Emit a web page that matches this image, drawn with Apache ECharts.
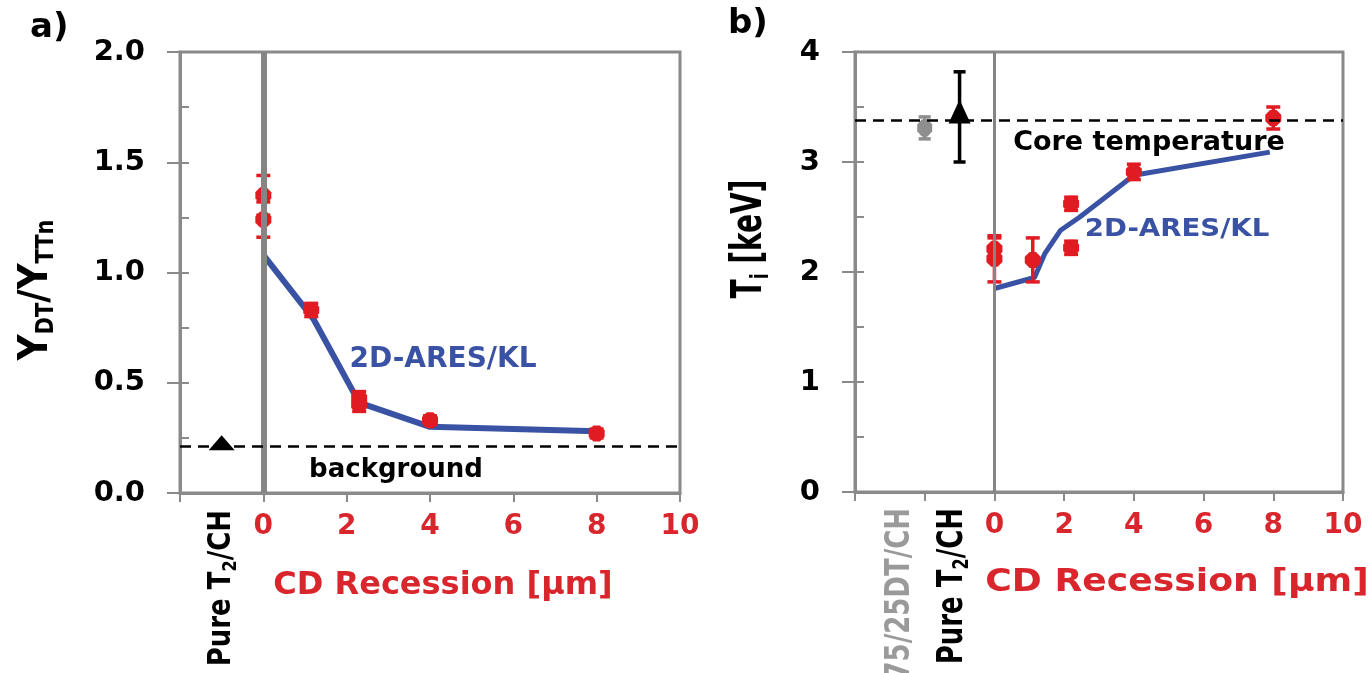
<!DOCTYPE html>
<html><head><meta charset="utf-8">
<script src="https://cdn.jsdelivr.net/npm/echarts@6/dist/echarts.min.js"></script>
<style>html,body{margin:0;padding:0;background:#fff}#c{width:1371px;height:673px}</style>
</head><body><div id="c"></div>
<script>
// ---------- Panel a : Y_DT / Y_TTn ----------
const aMeasX   = [0, 0, 1.15, 2.3, 2.3, 4, 8];
const aMeasY   = [1.35, 1.24, 0.83, 0.43, 0.40, 0.33, 0.27];
const aMeasErr = [0.09, 0.08, 0.03, 0.03, 0.03, 0.02, 0.02];
const aModelX  = [0, 1.2, 2.3, 4, 8];
const aModelY  = [1.08, 0.79, 0.41, 0.30, 0.28];
const aPureX   = [-1];
const aPureY   = [0.21];
const aBackground = 0.21;
const aYLabels = [0, 0.5, 1, 1.5, 2];

// ---------- Panel b : Ti [keV] ----------
const bMeasX   = [0, 0, 1.1, 2.2, 2.2, 4, 8];
const bMeasY   = [2.21, 2.12, 2.11, 2.62, 2.22, 2.91, 3.40];
const bMeasErr = [0.10, 0.21, 0.20, 0.06, 0.06, 0.07, 0.10];
const bModelX  = [0, 1.15, 1.45, 1.9, 2.45, 4, 7.9];
const bModelY  = [1.85, 1.95, 2.17, 2.38, 2.50, 2.88, 3.09];
const bMixX    = [-2];
const bMixY    = [3.31];
const bMixErr  = [0.10];
const bPureX   = [-1];
const bPureY   = [3.46];
const bPureLow = [3.00];
const bPureHigh= [3.82];
const bCoreT   = 3.38;
const bYLabels = [0, 1, 2, 3, 4];

const xTickLabels = [0, 2, 4, 6, 8, 10];

// ---------- styles ----------
const FONT = 'DejaVu Sans';
const RED = '#e01b22';
const RED_TXT = '#d9252c';
const BLUE = '#3a52a3';
const AXIS = '#8a8a8a';
const OCT = 'path://M3,0 L7,0 L10,3 L10,7 L7,10 L3,10 L0,7 L0,3 Z';

const chart = echarts.init(document.getElementById('c'));

function errBars(xs, lows, highs, color, xi, yi, cap) {
  return {
    type: 'custom', xAxisIndex: xi, yAxisIndex: yi, z: 3, silent: true,
    data: xs.map((x, i) => [x, lows[i], highs[i]]),
    renderItem(params, api) {
      const x = api.value(0);
      const lo = api.coord([x, api.value(1)]);
      const hi = api.coord([x, api.value(2)]);
      const st = { stroke: color, lineWidth: 3.5 };
      return { type: 'group', children: [
        { type: 'line', shape: { x1: lo[0], y1: lo[1], x2: hi[0], y2: hi[1] }, style: st },
        { type: 'line', shape: { x1: lo[0] - cap, y1: lo[1], x2: lo[0] + cap, y2: lo[1] }, style: st },
        { type: 'line', shape: { x1: hi[0] - cap, y1: hi[1], x2: hi[0] + cap, y2: hi[1] }, style: st }
      ]};
    }
  };
}
const zip = (xs, ys) => xs.map((x, i) => [x, ys[i]]);

function xAxisCfg(gi, min) {
  return {
    gridIndex: gi, type: 'value', min: min, max: 10, interval: 2,
    axisLine: { show: true, onZero: false, lineStyle: { color: AXIS, width: 3 } },
    axisTick: { show: true, inside: false, length: 9, lineStyle: { color: AXIS, width: 2 } },
    splitLine: { show: false },
    axisLabel: { color: RED_TXT, fontSize: 28, fontWeight: 'bold', fontFamily: FONT, margin: 20,
      formatter: v => xTickLabels.indexOf(v) >= 0 ? String(v) : '' }
  };
}
function yMain(gi, max, step, labels, dec) {
  return {
    gridIndex: gi, type: 'value', min: 0, max: max, interval: step, position: 'left',
    axisLine: { show: true, onZero: false, lineStyle: { color: AXIS, width: 3 } },
    axisTick: { show: true, inside: true, length: 9, lineStyle: { color: AXIS, width: 2 } },
    splitLine: { show: false },
    axisLabel: { color: '#000', fontSize: 29, fontWeight: 'bold', fontFamily: FONT, margin: 35,
      formatter: v => labels.some(l => Math.abs(l - v) < 1e-9) ? v.toFixed(dec) : '' }
  };
}
function yOuter(gi, max, step) {
  return {
    gridIndex: gi, type: 'value', min: 0, max: max, interval: step, position: 'left',
    axisLine: { show: false, onZero: false },
    axisTick: { show: true, inside: false, length: 13, lineStyle: { color: AXIS, width: 2 } },
    splitLine: { show: false }, axisLabel: { show: false }
  };
}

const txt = (o) => Object.assign({ type: 'text', silent: true, z: 100 }, o);
const solid = (c) => ({ color: c, opacity: 1 });

chart.setOption({
  animation: false,
  backgroundColor: '#fff',
  grid: [
    { left: 180, top: 52, width: 500, height: 441, show: true, borderColor: AXIS, borderWidth: 3, backgroundColor: 'transparent' },
    { left: 855, top: 52, width: 488, height: 440, show: true, borderColor: AXIS, borderWidth: 3, backgroundColor: 'transparent' }
  ],
  xAxis: [ xAxisCfg(0, -2), xAxisCfg(1, -4) ],
  yAxis: [
    yMain(0, 2, 0.25, aYLabels, 1), yOuter(0, 2, 0.5),
    yMain(1, 4, 0.5, bYLabels, 0),  yOuter(1, 4, 1)
  ],
  series: [
    // ---- panel a ----
    { type: 'line', xAxisIndex: 0, yAxisIndex: 0, data: [], silent: true, z: 1,
      markLine: { silent: true, symbol: 'none', label: { show: false },
        data: [
          { xAxis: 0, lineStyle: { color: '#858585', width: 6, type: 'solid' } },
          { yAxis: aBackground, lineStyle: { color: '#000', width: 2.5, type: [11, 7] } }
        ] } },
    { type: 'line', xAxisIndex: 0, yAxisIndex: 0, data: zip(aModelX, aModelY), z: 2,
      showSymbol: false, lineStyle: { color: BLUE, width: 6 }, silent: true },
    errBars(aMeasX, aMeasY.map((y, i) => y - aMeasErr[i]), aMeasY.map((y, i) => y + aMeasErr[i]), RED, 0, 0, 7),
    { type: 'scatter', xAxisIndex: 0, yAxisIndex: 0, data: zip(aMeasX, aMeasY), z: 4,
      symbol: OCT, symbolSize: 16, itemStyle: solid(RED) },
    { type: 'scatter', xAxisIndex: 0, yAxisIndex: 0, data: zip(aPureX, aPureY), z: 4,
      symbol: 'triangle', symbolSize: [26, 15], symbolOffset: [0, -4], itemStyle: solid('#000') },

    // ---- panel b ----
    { type: 'line', xAxisIndex: 1, yAxisIndex: 2, data: [], silent: true, z: 1,
      markLine: { silent: true, symbol: 'none', label: { show: false },
        data: [
          { xAxis: 0, lineStyle: { color: '#858585', width: 3, type: 'solid' } },
          { yAxis: bCoreT, lineStyle: { color: '#000', width: 2.5, type: [11, 7] } }
        ] } },
    { type: 'line', xAxisIndex: 1, yAxisIndex: 2, data: zip(bModelX, bModelY), z: 2,
      showSymbol: false, lineStyle: { color: BLUE, width: 5 }, silent: true },
    errBars(bMeasX, bMeasY.map((y, i) => y - bMeasErr[i]), bMeasY.map((y, i) => y + bMeasErr[i]), RED, 1, 2, 7),
    { type: 'scatter', xAxisIndex: 1, yAxisIndex: 2, data: zip(bMeasX, bMeasY), z: 4,
      symbol: OCT, symbolSize: 16, itemStyle: solid(RED) },
    errBars(bMixX, bMixY.map((y, i) => y - bMixErr[i]), bMixY.map((y, i) => y + bMixErr[i]), '#8e8e8e', 1, 2, 6),
    { type: 'scatter', xAxisIndex: 1, yAxisIndex: 2, data: zip(bMixX, bMixY), z: 4,
      symbol: OCT, symbolSize: [15, 17], itemStyle: solid('#8e8e8e') },
    errBars(bPureX, bPureLow, bPureHigh, '#000', 1, 2, 6),
    { type: 'scatter', xAxisIndex: 1, yAxisIndex: 2, data: zip(bPureX, bPureY), z: 4,
      symbol: 'triangle', symbolSize: [22, 24], itemStyle: solid('#000') }
  ],
  graphic: [
    txt({ x: 30, y: 28, style: { text: 'a)', fontSize: 34, fontWeight: 'bold', fontFamily: FONT, fill: '#000', align: 'left', verticalAlign: 'middle' } }),
    txt({ x: 728, y: 24, style: { text: 'b)', fontSize: 34, fontWeight: 'bold', fontFamily: FONT, fill: '#000', align: 'left', verticalAlign: 'middle' } }),
    // y titles
    txt({ x: 36, y: 290, rotation: Math.PI / 2, scaleY: 1.15, style: {
      text: '{m|Y}{s|DT}{m|/Y}{s|TTn}', align: 'center', verticalAlign: 'middle', fill: '#000',
      fontFamily: FONT, fontWeight: 'bold', fontSize: 36,
      rich: { m: { fontSize: 36, fontWeight: 'bold', fontFamily: FONT, fill: '#000', lineHeight: 40 },
              s: { fontSize: 21, fontWeight: 'bold', fontFamily: FONT, fill: '#000', lineHeight: 12, verticalAlign: 'bottom' } } } }),
    txt({ x: 750, y: 239, rotation: Math.PI / 2, scaleY: 1.5, style: {
      text: '{m|T}{s|i}{m| [keV]}', align: 'center', verticalAlign: 'middle', fill: '#000',
      fontFamily: FONT, fontWeight: 'bold', fontSize: 28,
      rich: { m: { fontSize: 28, fontWeight: 'bold', fontFamily: FONT, fill: '#000', lineHeight: 32 },
              s: { fontSize: 17, fontWeight: 'bold', fontFamily: FONT, fill: '#000', lineHeight: 10, verticalAlign: 'bottom' } } } }),
    // category labels (rotated)
    txt({ x: 222, y: 510, rotation: Math.PI / 2, scaleY: 1.25, style: {
      text: '{m|Pure T}{s|2}{m|/CH}', align: 'right', verticalAlign: 'middle', fill: '#000',
      fontFamily: FONT, fontWeight: 'bold', fontSize: 26,
      rich: { m: { fontSize: 26, fontWeight: 'bold', fontFamily: FONT, fill: '#000', lineHeight: 30 },
              s: { fontSize: 16, fontWeight: 'bold', fontFamily: FONT, fill: '#000', lineHeight: 10, verticalAlign: 'bottom' } } } }),
    txt({ x: 900, y: 508, rotation: Math.PI / 2, scaleY: 1.3, style: {
      text: '75/25DT/CH', align: 'right', verticalAlign: 'middle', fill: '#9a9a9a',
      fontFamily: FONT, fontWeight: 'bold', fontSize: 26 } }),
    txt({ x: 953, y: 508, rotation: Math.PI / 2, scaleY: 1.35, style: {
      text: '{m|Pure T}{s|2}{m|/CH}', align: 'right', verticalAlign: 'middle', fill: '#000',
      fontFamily: FONT, fontWeight: 'bold', fontSize: 26,
      rich: { m: { fontSize: 26, fontWeight: 'bold', fontFamily: FONT, fill: '#000', lineHeight: 30 },
              s: { fontSize: 16, fontWeight: 'bold', fontFamily: FONT, fill: '#000', lineHeight: 10, verticalAlign: 'bottom' } } } }),
    // x titles
    txt({ x: 443, y: 586, style: { text: 'CD Recession [\u00b5m]', align: 'center', verticalAlign: 'middle',
      fill: RED_TXT, fontFamily: FONT, fontWeight: 'bold', fontSize: 32 } }),
    txt({ x: 1177, y: 583, scaleX: 1.13, style: { text: 'CD Recession [\u00b5m]', align: 'center', verticalAlign: 'middle',
      fill: RED_TXT, fontFamily: FONT, fontWeight: 'bold', fontSize: 32 } }),
    // annotations
    txt({ x: 396, y: 470, style: { text: 'background', align: 'center', verticalAlign: 'middle',
      fill: '#000', fontFamily: FONT, fontWeight: 'bold', fontSize: 26 } }),
    txt({ x: 443, y: 360, style: { text: '2D-ARES/KL', align: 'center', verticalAlign: 'middle',
      fill: BLUE, fontFamily: FONT, fontWeight: 'bold', fontSize: 28 } }),
    txt({ x: 1149, y: 143, style: { text: 'Core temperature', align: 'center', verticalAlign: 'middle',
      fill: '#000', fontFamily: FONT, fontWeight: 'bold', fontSize: 27 } }),
    txt({ x: 1177, y: 230, scaleX: 1.15, style: { text: '2D-ARES/KL', align: 'center', verticalAlign: 'middle',
      fill: BLUE, fontFamily: FONT, fontWeight: 'bold', fontSize: 24 } })
  ]
});
</script>
</body></html>
